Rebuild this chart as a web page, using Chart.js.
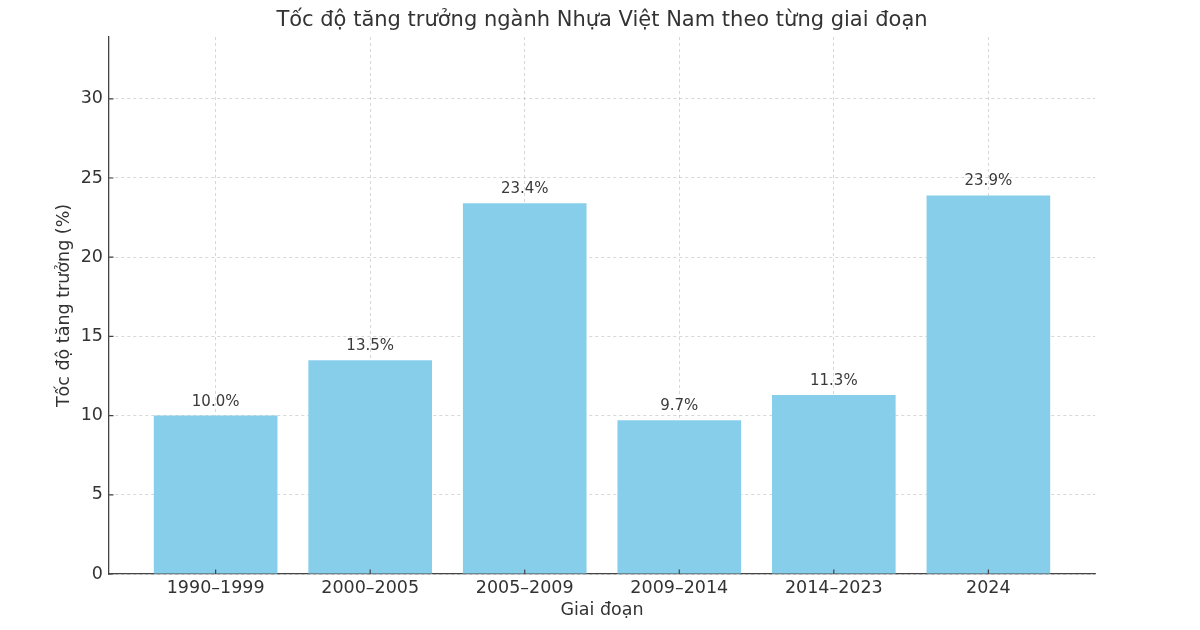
<!DOCTYPE html>
<html>
<head>
<meta charset="utf-8">
<script src="https://cdn.jsdelivr.net/npm/chart.js@4"></script>
<style>
  html, body { margin: 0; padding: 0; background: #ffffff; }
  #wrap { width: 1200px; height: 630px; }
</style>
</head>
<body>
<div id="wrap"><canvas id="growthChart" width="1200" height="630"></canvas></div>
<script>
const categories = ['1990–1999', '2000–2005', '2005–2009', '2009–2014', '2014–2023', '2024'];
const growthValues = [10.0, 13.5, 23.4, 9.7, 11.3, 23.9];
const yTicks = [0, 5, 10, 15, 20, 25, 30];

const titleText = 'Tốc độ tăng trưởng ngành Nhựa Việt Nam theo từng giai đoạn';
const textColor = '#333333';
const fontFamily = "'DejaVu Sans', sans-serif";

// title above the plot, value labels above bars, inward tick marks
const extrasPlugin = {
  id: 'extras',
  afterDraw(chart) {
    const ctx = chart.ctx;
    const area = chart.chartArea;
    ctx.save();
    ctx.fillStyle = textColor;
    ctx.font = "21px " + fontFamily;
    ctx.textAlign = 'center';
    ctx.textBaseline = 'middle';
    ctx.fillText(titleText, (area.left + area.right) / 2, 21);

    const meta = chart.getDatasetMeta(0);
    ctx.font = "15px " + fontFamily;
    ctx.fillStyle = '#3a3a3a';
    ctx.textBaseline = 'alphabetic';
    meta.data.forEach((bar, i) => {
      ctx.fillText(growthValues[i].toFixed(1) + '%', bar.x, bar.y - 10);
    });

    ctx.strokeStyle = '#444444';
    ctx.lineWidth = 1.2;
    const xs = chart.scales.x;
    const ys = chart.scales.y;
    ctx.beginPath();
    categories.forEach((_, i) => {
      const px = xs.getPixelForValue(i);
      ctx.moveTo(px, area.bottom);
      ctx.lineTo(px, area.bottom - 4.5);
    });
    yTicks.forEach(v => {
      const py = ys.getPixelForValue(v);
      ctx.moveTo(area.left, py);
      ctx.lineTo(area.left + 4.5, py);
    });
    ctx.stroke();
    ctx.restore();
  }
};

const ctx = document.getElementById('growthChart').getContext('2d');
new Chart(ctx, {
  type: 'bar',
  data: {
    datasets: [{
      data: growthValues.map((v, i) => ({ x: i, y: v })),
      backgroundColor: '#87ceeb',
      borderWidth: 0,
      categoryPercentage: 1.0,
      barPercentage: 0.8
    }]
  },
  options: {
    responsive: false,
    animation: false,
    devicePixelRatio: 1,
    layout: { padding: { top: 37, right: 105, bottom: 0, left: 0 } },
    plugins: {
      legend: { display: false },
      title: { display: false },
      tooltip: { enabled: false }
    },
    scales: {
      x: {
        type: 'linear',
        offset: false,
        min: -0.69,
        max: 5.69,
        z: 1,
        afterBuildTicks(scale) {
          scale.ticks = categories.map((_, i) => ({ value: i }));
        },
        afterFit(scale) { scale.height = 56; },
        grid: { color: 'rgba(170,170,170,0.6)', lineWidth: 0.8, drawTicks: false, offset: false },
        border: { display: true, color: '#444444', width: 1.3, dash: [3, 3] },
        ticks: {
          color: textColor,
          padding: 4,
          maxRotation: 0,
          autoSkip: false,
          font: { family: fontFamily, size: 17.5 },
          callback: (value) => categories[value] || ''
        },
        title: {
          display: true,
          text: 'Giai đoạn',
          color: textColor,
          padding: { top: 0, bottom: 9 },
          font: { family: fontFamily, size: 17.5 }
        }
      },
      y: {
        min: 0,
        max: 33.9,
        z: 1,
        afterBuildTicks(scale) {
          scale.ticks = yTicks.map(v => ({ value: v }));
        },
        afterFit(scale) { scale.width = 109; },
        grid: { color: 'rgba(170,170,170,0.6)', lineWidth: 0.8, drawTicks: false },
        border: { display: true, color: '#444444', width: 1.3, dash: [3, 3] },
        ticks: {
          color: textColor,
          padding: 6,
          font: { family: fontFamily, size: 17.5 }
        },
        title: {
          display: true,
          text: 'Tốc độ tăng trưởng (%)',
          color: textColor,
          padding: { top: 54, bottom: 0 },
          font: { family: fontFamily, size: 17.5 }
        }
      }
    }
  },
  plugins: [extrasPlugin]
});
</script>
</body>
</html>
